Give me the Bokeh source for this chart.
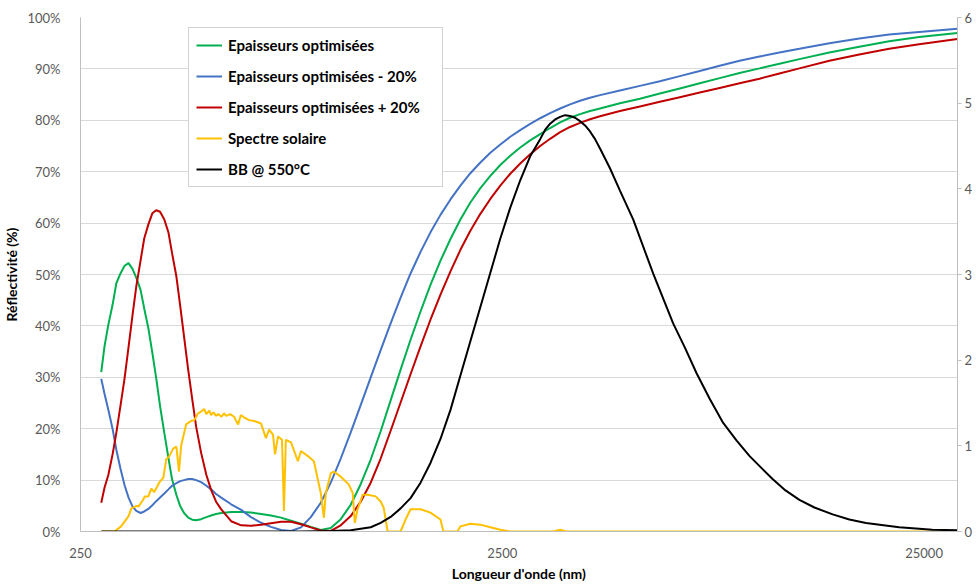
from bokeh.plotting import figure
from bokeh.models import (Range1d, LinearAxis, FixedTicker, NumeralTickFormatter,
                          PrintfTickFormatter, Legend, LegendItem)
from bokeh.embed import file_html
from bokeh.resources import INLINE

FONT = "Lato"

# ---------------- data ----------------
wavelength_nm = [280, 285, 291, 298, 304, 311, 318, 325, 332, 339, 347, 354, 362, 370, 378, 386, 395, 404, 412, 422, 431, 440, 450, 460, 470,
                 483, 497, 510, 524, 539,
                 569, 601, 634, 670, 707, 747, 789, 833, 879, 928,
                 980, 1035, 1093, 1154, 1219, 1287, 1359, 1435, 1515, 1600,
                 1689, 1784, 1884, 1989, 2100, 2218, 2342, 2473, 2611, 2757,
                 2911, 3074, 3246, 3428, 3619, 3822, 4036, 4262,
                 4752, 5300, 5909, 6590, 7346, 8191, 9131, 10182, 11352, 12657,
                 14907, 17555, 20665, 24330, 30000]

refl_optimised = [31.0, 36.0, 40.2, 44.2, 48.3, 50.2, 51.7, 52.2, 51.1, 49.4, 47.0, 43.4, 39.6, 34.8, 29.8, 24.4, 19.2, 14.3, 10.2, 7.1, 4.9, 3.6, 2.7, 2.3, 2.2,
                  2.4, 2.8, 3.1, 3.4, 3.6,
                  3.8, 3.8, 3.7, 3.4, 3.1, 2.7, 2.1, 1.5, 0.9, 0.3,
                  0.7, 2.4, 5.2, 9.2, 14.0, 19.5, 25.5, 31.5, 37.3, 42.8,
                  48.0, 52.7, 56.9, 60.7, 64.0, 66.8, 69.2, 71.3, 73.1, 74.7,
                  76.1, 77.3, 78.5, 79.6, 80.5, 81.2, 81.8, 82.3,
                  83.3, 84.2, 85.2, 86.2, 87.2, 88.2, 89.2, 90.1, 91.0, 91.9,
                  93.2, 94.3, 95.4, 96.2, 97.0]

refl_minus20 = [29.7, 26.8, 23.7, 19.9, 15.9, 12.2, 9.0, 6.6, 4.9, 4.0, 3.6, 3.9, 4.4, 5.1, 5.9, 6.6, 7.4, 8.2, 8.9, 9.4, 9.8, 10.0, 10.2, 10.2, 10.0,
                9.6, 8.9, 8.2, 7.3, 6.6,
                5.3, 4.2, 2.8, 1.7, 0.9, 0.3, 0.1, 0.8, 2.8, 5.6,
                9.5, 14.2, 19.3, 24.6, 30.0, 35.3, 40.5, 45.5, 50.2, 54.4,
                58.2, 61.6, 64.6, 67.3, 69.7, 71.8, 73.7, 75.3, 76.8, 78.1,
                79.3, 80.4, 81.4, 82.3, 83.1, 83.8, 84.4, 84.9,
                85.8, 86.7, 87.6, 88.6, 89.6, 90.6, 91.6, 92.4, 93.2, 93.9,
                95.0, 95.9, 96.7, 97.2, 97.8]

refl_plus20 = [5.6, 8.5, 11.0, 15.1, 19.2, 24.5, 29.8, 35.9, 42.0, 47.7, 52.7, 57.0, 59.7, 61.9, 62.5, 62.2, 60.7, 58.2, 54.2, 49.6, 43.8, 37.9, 31.5, 25.8, 20.4,
               15.3, 11.0, 8.1, 5.8, 4.3,
               2.0, 1.2, 1.1, 1.3, 1.6, 1.9, 1.9, 1.4, 0.8, 0.2,
               0.1, 1.2, 3.0, 5.8, 9.5, 14.2, 19.6, 25.1, 30.6, 36.0,
               41.2, 46.1, 50.6, 54.8, 58.5, 61.8, 64.7, 67.3, 69.6, 71.6,
               73.4, 75.0, 76.4, 77.7, 78.7, 79.5, 80.2, 80.8,
               81.8, 82.7, 83.6, 84.5, 85.4, 86.3, 87.2, 88.1, 89.1, 90.1,
               91.6, 92.8, 93.9, 94.8, 95.8]

solar_nm = [280, 301, 312, 325, 330, 340, 343, 352, 355, 362,
            368, 374, 384, 393, 399, 406, 415, 422, 428, 433,
            445, 457, 465, 475, 483, 491, 497, 505, 510, 517,
            524, 530, 540, 547, 554, 566, 578, 591, 600, 611,
            628, 645, 670, 688, 700, 715, 723, 735, 751, 759,
            767, 789, 819, 833, 865, 894, 913, 928, 944, 954,
            980, 996, 1035, 1081, 1105, 1117, 1135, 1167, 1199, 1252,
            1287, 1308, 1337, 1435, 1474, 1515, 1600, 1689, 1784, 1813,
            1957, 1989, 2100, 2218, 2342, 2473, 2611, 3300, 3428, 3550,
            30000]
solar_irr = [0, 0, 0.06, 0.18, 0.27, 0.30, 0.29, 0.37, 0.41, 0.41,
             0.50, 0.46, 0.57, 0.63, 0.84, 0.88, 0.97, 0.99, 0.70, 1.00,
             1.25, 1.29, 1.30, 1.38, 1.40, 1.43, 1.37, 1.41, 1.36, 1.39,
             1.35, 1.37, 1.34, 1.38, 1.35, 1.37, 1.34, 1.25, 1.36, 1.33,
             1.30, 1.29, 1.26, 1.09, 1.19, 1.13, 0.90, 1.11, 1.07, 0.24,
             1.07, 1.04, 0.82, 0.94, 0.88, 0.82, 0.61, 0.45, 0.16, 0.45,
             0.68, 0.70, 0.64, 0.55, 0.45, 0.10, 0.26, 0.43, 0.43, 0.41,
             0.35, 0.28, 0, 0, 0.14, 0.26, 0.26, 0.22, 0.14, 0,
             0, 0.06, 0.09, 0.08, 0.05, 0.02, 0, 0, 0.02, 0,
             0]

bb_nm = [280, 833, 980, 1093, 1219, 1287, 1359, 1435, 1515, 1600,
         1689, 1784, 1884, 1989, 2100, 2218, 2342, 2473, 2611, 2757,
         2911, 3074, 3160, 3246, 3337, 3428, 3523, 3619, 3720, 3822,
         3928, 4036, 4148, 4262, 4500, 4752, 5110, 5698, 6353, 6770,
         7215, 7755, 8341, 8985, 9645, 10296, 10947, 11732, 12657, 13738,
         15178, 16620, 18202, 21822, 26150, 30000]
bb_550C = [0, 0, 0.005, 0.015, 0.05, 0.10, 0.17, 0.27, 0.39, 0.57,
           0.80, 1.08, 1.42, 1.82, 2.22, 2.62, 3.02, 3.42, 3.78, 4.10,
           4.38, 4.58, 4.69, 4.76, 4.81, 4.84, 4.86, 4.85, 4.83, 4.79,
           4.74, 4.67, 4.58, 4.47, 4.24, 3.98, 3.64, 3.01, 2.43, 2.15,
           1.85, 1.55, 1.27, 1.06, 0.88, 0.74, 0.61, 0.48, 0.37, 0.28,
           0.20, 0.14, 0.10, 0.05, 0.02, 0.015]

x_ticks = [250, 2500, 25000]
left_ticks = [0, 10, 20, 30, 40, 50, 60, 70, 80, 90, 100]
right_ticks = [0, 1, 2, 3, 4, 5, 6]

series_labels = ["Epaisseurs optimisées", "Epaisseurs optimisées - 20%",
                 "Epaisseurs optimisées + 20%", "Spectre solaire", "BB @ 550°C"]
series_colors = ["#00B050", "#4472C4", "#C00000", "#FFC000", "#000000"]

# ---------------- figure ----------------
p = figure(width=975, height=584, x_axis_type="log",
           x_range=Range1d(250, 30000), y_range=Range1d(0, 100),
           output_backend="svg", toolbar_location=None,
           min_border_left=79, min_border_top=17, min_border_right=5, min_border_bottom=45)
p.extra_y_ranges = {"right": Range1d(0, 6)}
p.outline_line_color = None
p.background_fill_color = "white"
p.border_fill_color = "white"

p.xgrid.visible = False
p.ygrid.ticker = FixedTicker(ticks=left_ticks)
p.ygrid.grid_line_color = "#d9d9d9"
p.ygrid.grid_line_width = 1

AX = "#bfbfbf"
LBL = "#595959"

xa = p.xaxis[0]
xa.ticker = FixedTicker(ticks=x_ticks)
xa.formatter = NumeralTickFormatter(format="0")
xa.major_tick_line_color = None
xa.minor_tick_line_color = None
xa.axis_line_color = AX
xa.major_label_text_color = LBL
xa.major_label_text_font = FONT
xa.major_label_text_font_size = "13px"
xa.major_label_standoff = 10
xa.axis_label = "Longueur d'onde (nm)"
xa.axis_label_text_font = FONT
xa.axis_label_text_font_size = "14px"
xa.axis_label_text_font_style = "bold"
xa.axis_label_text_color = "black"
xa.axis_label_standoff = 4

ya = p.yaxis[0]
ya.ticker = FixedTicker(ticks=left_ticks)
ya.formatter = PrintfTickFormatter(format="%d%%")
ya.major_tick_line_color = None
ya.minor_tick_line_color = None
ya.axis_line_color = AX
ya.major_label_text_color = LBL
ya.major_label_text_font = FONT
ya.major_label_text_font_size = "13px"
ya.major_label_standoff = 14
ya.axis_label = "Réflectivité (%)"
ya.axis_label_text_font = FONT
ya.axis_label_text_font_size = "14px"
ya.axis_label_text_font_style = "bold"
ya.axis_label_text_color = "black"
ya.axis_label_standoff = 4

ra = LinearAxis(y_range_name="right", ticker=FixedTicker(ticks=right_ticks))
ra.major_tick_out = 4
ra.major_tick_in = 0
ra.major_tick_line_color = AX
ra.minor_tick_line_color = None
ra.axis_line_color = AX
ra.major_label_text_color = LBL
ra.major_label_text_font = FONT
ra.major_label_text_font_size = "13px"
ra.major_label_standoff = 3
p.add_layout(ra, "right")

# ---------------- series ----------------
r_g = p.line(wavelength_nm, refl_optimised, line_color=series_colors[0], line_width=2)
r_b = p.line(wavelength_nm, refl_minus20, line_color=series_colors[1], line_width=2)
r_r = p.line(wavelength_nm, refl_plus20, line_color=series_colors[2], line_width=2)
r_y = p.line(solar_nm, solar_irr, line_color=series_colors[3], line_width=2, y_range_name="right")
r_k = p.line(bb_nm, bb_550C, line_color=series_colors[4], line_width=2, y_range_name="right")

renderers = [r_g, r_b, r_r, r_y, r_k]
legend = Legend(items=[LegendItem(label=lab, renderers=[rr]) for lab, rr in zip(series_labels, renderers)],
                location=(108, 344))
legend.margin = 0
legend.padding = 7
legend.spacing = 11
legend.label_height = 20
legend.glyph_height = 20
legend.glyph_width = 26
legend.label_standoff = 6
legend.label_width = 207
legend.label_text_font = FONT
legend.label_text_font_size = "15px"
legend.label_text_font_style = "bold"
legend.label_text_color = "black"
legend.border_line_color = "#a6a6a6"
legend.border_line_width = 1
legend.background_fill_color = "white"
legend.background_fill_alpha = 1
p.add_layout(legend)

open("out.html", "w").write(file_html(p, INLINE))
